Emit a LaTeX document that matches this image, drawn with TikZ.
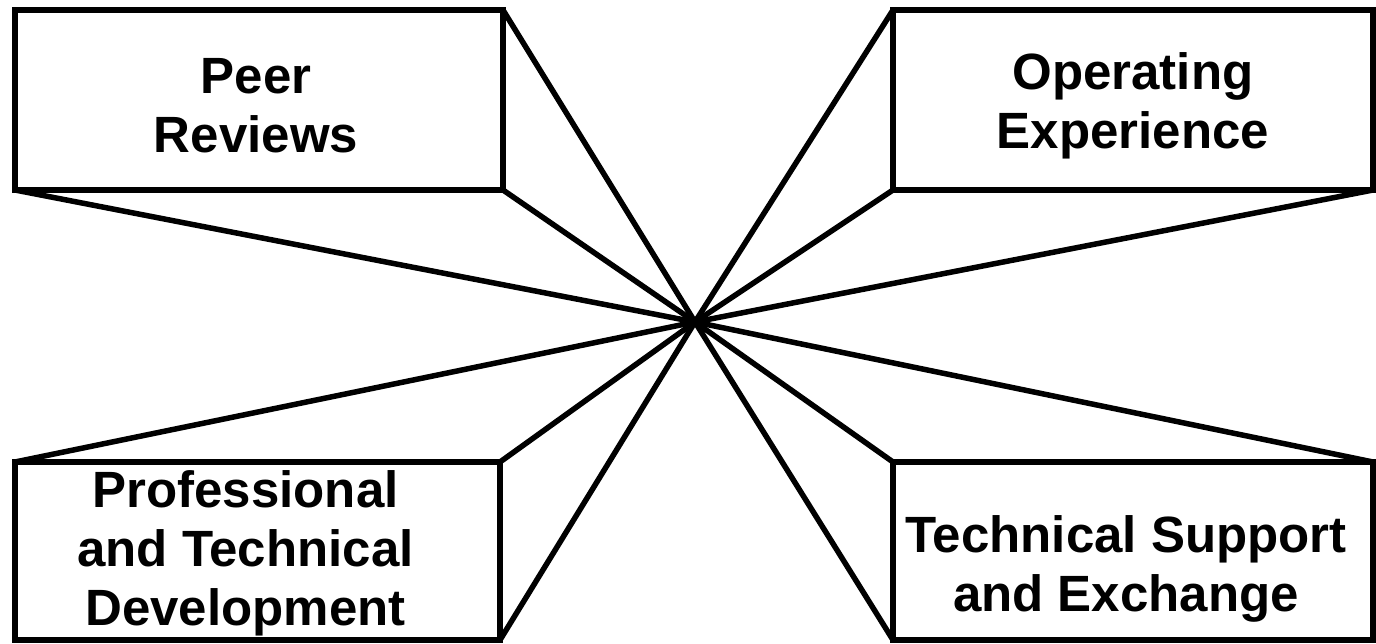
\documentclass[tikz,border=0pt]{standalone}
\usepackage{fontspec}
\setmainfont{Liberation Sans}
\usetikzlibrary{positioning}

\begin{document}
\begin{tikzpicture}[x=1pt, y=-1pt,
			area/.style={rectangle, draw=black, line width=5.5pt, fill=white, outer sep=0pt},
			caption/.style={align=center, inner sep=0pt, font=\fontsize{51}{59}\selectfont\bfseries},
			line/.style={draw, line width=5.5pt, line join=miter}]

		\useasboundingbox (0,0) rectangle (1376,643);

		% Define nodes
		\coordinate (hub) at (695,322);
		\node [area, minimum width=488pt, minimum height=180pt] (peer) at (259,100) {};
		\node [area, minimum width=480pt, minimum height=180pt] (operating) at (1133,100) {};
		\node [area, minimum width=485pt, minimum height=178pt] (development) at (257.5,551) {};
		\node [area, minimum width=480pt, minimum height=178pt] (support) at (1133,551) {};

		% Texts
		\node [caption] (peer text) at ([shift={(-3,6)}]peer.center) {Peer\\Reviews};
		\node [caption] (operating text) at ([shift={(0,6)}]operating.center) {Operating\\Experience};
		\node [caption] (development text) at ([shift={(-12,2)}]development.center) {Professional\\and Technical\\Development};
		\node [caption] (support text) at ([shift={(-7,18)}]support.center) {Technical Support\\and Exchange};

		% Draw connections
		\foreach \n/\a in {peer/north east, peer/south east, peer/south west,
				operating/north west, operating/south west, operating/south east,
				development/north west, development/north east, development/south east,
				support/north west, support/south west, support/north east}
			{
				\path [line] (\n.\a) -- (hub);
			}

	\end{tikzpicture}
\end{document}
